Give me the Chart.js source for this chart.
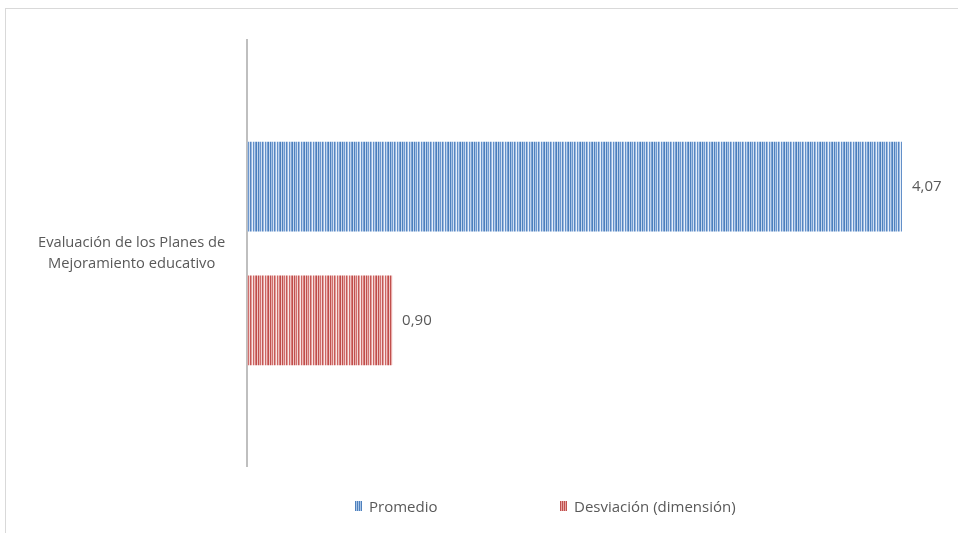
<!DOCTYPE html>
<html>
<head>
<meta charset="utf-8">
<script src="https://cdn.jsdelivr.net/npm/chart.js@4/dist/chart.umd.min.js"></script>
<style>
  html, body { margin: 0; padding: 0; background: #fff; overflow: hidden; }
  #frame {
    position: absolute; left: 5px; top: 8px; width: 960px; height: 530px;
    border: 1px solid #d9d9d9; box-sizing: border-box;
  }
  #wrap { position: absolute; left: 0; top: -4px; width: 952px; height: 497px; }
  .leg {
    position: absolute; top: 487px; font: 15px "Open Sans", sans-serif; color: #595959;
    display: flex; align-items: center; white-space: nowrap;
  }
  .leg i { display: inline-block; width: 7px; height: 10px; margin-right: 7px; }
  #l1 { left: 349px; }
  #l2 { left: 554px; }
  #l1 i { background: repeating-linear-gradient(90deg, #4f81bd 0 1px, #a9c4e6 1px 2px); }
  #l2 i { background: repeating-linear-gradient(90deg, #c0504d 0 1px, #e6a5a3 1px 2px); }
</style>
</head>
<body>
<div id="frame">
  <div id="wrap"><canvas id="chart"></canvas></div>
  <div class="leg" id="l1"><i></i>Promedio</div>
  <div class="leg" id="l2"><i></i>Desviación (dimensión)</div>
</div>
<script>
var categories = [["Evaluación de los Planes de", "Mejoramiento educativo"]];
var seriesNames = ["Promedio", "Desviación (dimensión)"];
var promedio = [4.07];
var desviacion = [0.90];

function stripes(colors) {
  var c = document.createElement('canvas');
  c.width = colors.length; c.height = 4;
  var g = c.getContext('2d');
  colors.forEach(function(col, i) { g.fillStyle = col; g.fillRect(i, 0, 1, 4); });
  return g.createPattern(c, 'repeat');
}

var blueFill = stripes(['#4f81bd', '#a6c2e6', '#6d98cf', '#d2e0f2', '#5685c0', '#9ab8e0', '#e6eef8', '#6390c9', '#bcd1ec', '#7ba2d4', '#4c7fbc', '#c4d7ef']);
var redFill = stripes(['#c0504d', '#e9adac', '#d0706e', '#f3d4d3', '#c45855', '#e39e9c', '#f8e6e6', '#cb6663', '#eec0bf', '#d77e7c', '#bf4d4a', '#f0c8c7']);

var valueLabels = {
  id: 'valueLabels',
  afterDatasetsDraw: function(chart) {
    var ctx = chart.ctx;
    ctx.save();
    ctx.font = '15px "Open Sans", sans-serif';
    ctx.fillStyle = '#595959';
    ctx.textBaseline = 'middle';
    chart.data.datasets.forEach(function(ds, i) {
      chart.getDatasetMeta(i).data.forEach(function(bar, j) {
        ctx.fillText(ds.data[j].toFixed(2).replace('.', ','), bar.x + 10, bar.y);
      });
    });
    ctx.restore();
  }
};

function draw() {
  new Chart('chart', {
    type: 'bar',
    data: {
      labels: categories,
      datasets: [
        { label: seriesNames[0], data: promedio, backgroundColor: blueFill },
        { label: seriesNames[1], data: desviacion, backgroundColor: redFill }
      ]
    },
    options: {
      indexAxis: 'y',
      responsive: true,
      maintainAspectRatio: false,
      animation: false,
      layout: { padding: { left: 18, top: 0, right: 19, bottom: 0 } },
      datasets: { bar: { barPercentage: 0.67, categoryPercentage: 0.628 } },
      plugins: { legend: { display: false }, tooltip: { enabled: false } },
      scales: {
        x: { display: false, min: 0, max: 4.3 },
        y: {
          grid: { display: false },
          border: { display: true, color: '#bfbfbf', width: 2 },
          ticks: {
            crossAlign: 'center', padding: 14, color: '#595959',
            font: { family: 'Open Sans', size: 14.7, lineHeight: 1.45 }
          }
        }
      }
    },
    plugins: [valueLabels]
  });
}

document.fonts.load('15px "Open Sans"').then(draw, draw);
</script>
</body>
</html>
